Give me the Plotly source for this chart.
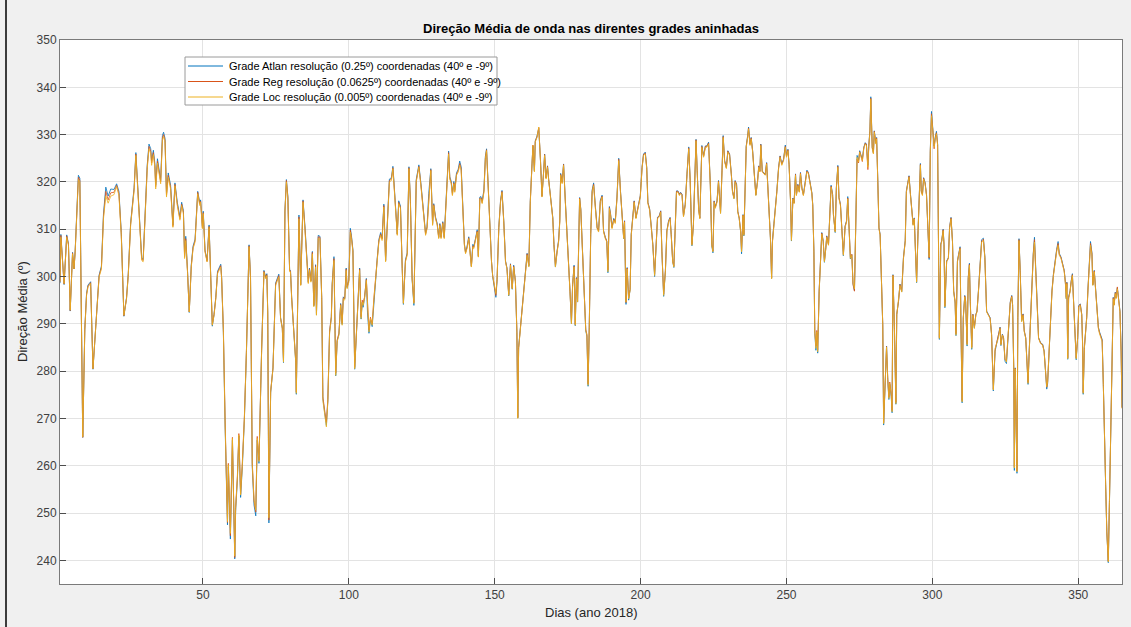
import plotly.graph_objects as go

# ---------------- data ----------------
days = [
    1.0, 1.3, 2.4, 3.3, 3.9, 4.5, 5.3, 5.8, 6.2, 6.6,
    7.3, 7.8, 8.2, 8.8, 9.5, 10.1, 10.6, 11.5, 12.3, 13.0,
    13.8, 14.4, 15.2, 15.9, 16.7, 17.5, 18.4, 19.5, 20.4, 21.2,
    22.0, 22.9, 23.8, 24.4, 25.2, 26.4, 27.0, 27.5, 28.3, 29.0,
    29.5, 30.1, 30.9, 31.5, 32.1, 32.4, 33.0, 33.5, 33.8, 34.4,
    35.0, 35.5, 36.1, 36.5, 37.0, 37.5, 38.1, 38.9, 39.7, 40.4,
    41.2, 41.8, 42.1, 42.7, 43.3, 43.7, 44.1, 44.7, 45.3, 46.0,
    46.6, 47.3, 48.2, 48.9, 49.2, 49.8, 50.1, 50.7, 51.4, 52.1,
    52.6, 53.2, 53.8, 54.4, 55.0, 55.5, 56.1, 56.4, 57.0, 57.6,
    58.0, 58.4, 58.7, 59.4, 60.1, 60.5, 60.9, 61.2, 61.8, 62.3,
    62.9, 63.5, 64.2, 64.9, 65.8, 66.3, 66.9, 67.5, 68.1, 68.6,
    69.2, 70.1, 70.9, 71.5, 71.9, 72.2, 72.6, 73.2, 74.0, 74.9,
    75.5, 76.0, 76.6, 77.2, 77.6, 78.1, 78.6, 79.1, 79.7, 80.0,
    80.4, 81.2, 81.8, 82.0, 82.6, 82.9, 83.5, 84.3, 85.0, 85.7,
    86.1, 86.5, 87.0, 87.5, 88.0, 88.6, 88.9, 89.5, 90.1, 90.7,
    91.1, 91.7, 92.3, 92.8, 93.4, 94.0, 94.3, 94.9, 95.5, 96.0,
    96.6, 97.2, 97.7, 98.1, 98.6, 99.1, 99.4, 100.0, 100.5, 100.9,
    101.4, 102.0, 102.5, 103.2, 103.7, 104.2, 104.6, 104.9, 105.4, 106.0,
    106.4, 106.9, 107.4, 108.0, 108.6, 109.2, 109.7, 110.3, 110.9, 111.4,
    112.0, 112.6, 113.1, 113.9, 114.6, 115.1, 115.4, 116.0, 116.6, 117.1,
    117.7, 118.3, 118.7, 119.4, 120.0, 120.6, 121.1, 121.7, 122.3, 123.1,
    124.0, 124.7, 125.5, 126.3, 126.8, 127.4, 128.1, 128.7, 129.1, 129.7,
    130.3, 130.8, 131.2, 131.6, 132.2, 132.7, 133.1, 133.7, 134.2, 134.6,
    135.1, 135.5, 136.0, 136.3, 136.9, 137.5, 138.0, 138.5, 139.1, 139.6,
    140.0, 140.5, 141.1, 141.6, 142.0, 142.5, 142.8, 143.4, 144.0, 144.4,
    144.9, 145.3, 145.7, 146.3, 146.8, 147.2, 147.7, 148.4, 148.9, 149.3,
    149.9, 150.4, 150.8, 151.4, 152.0, 152.5, 153.1, 153.7, 154.2, 154.8,
    155.4, 156.0, 156.5, 157.1, 157.6, 157.9, 158.2, 158.8, 159.4, 159.9,
    160.5, 161.1, 161.7, 162.2, 162.8, 163.1, 163.6, 163.9, 164.5, 165.1,
    165.7, 166.2, 166.8, 167.1, 167.6, 168.1, 168.5, 169.0, 169.4, 169.9,
    170.3, 170.8, 171.4, 171.9, 172.3, 172.6, 173.1, 173.6, 174.2, 174.8,
    175.4, 175.8, 176.3, 176.7, 177.2, 177.6, 178.0, 178.4, 178.8, 179.1,
    179.5, 179.9, 180.5, 180.8, 181.2, 181.6, 182.0, 182.4, 182.9, 183.4,
    183.9, 184.5, 185.1, 185.6, 186.2, 186.8, 187.3, 187.9, 188.4, 188.8,
    189.3, 189.7, 190.2, 190.8, 191.3, 191.9, 192.5, 193.1, 193.6, 194.2,
    194.5, 195.0, 195.4, 195.9, 196.4, 196.8, 197.3, 197.8, 198.4, 198.9,
    199.3, 199.9, 200.5, 201.0, 201.6, 202.1, 202.5, 203.1, 203.7, 204.2,
    204.8, 205.4, 205.8, 206.4, 206.9, 207.3, 207.9, 208.5, 209.0, 209.6,
    210.1, 210.5, 211.0, 211.4, 211.9, 212.3, 212.8, 213.3, 213.7, 214.2,
    214.7, 215.3, 215.9, 216.5, 217.0, 217.6, 218.1, 218.5, 219.0, 219.4,
    219.9, 220.3, 221.0, 221.6, 222.2, 222.7, 223.3, 223.9, 224.4, 224.8,
    225.2, 225.6, 226.2, 226.7, 227.4, 227.9, 228.3, 228.8, 229.4, 229.9,
    230.5, 231.1, 231.5, 232.0, 232.4, 232.9, 233.3, 233.8, 234.3, 234.6,
    235.1, 235.4, 235.9, 236.2, 236.7, 237.0, 237.5, 237.9, 238.4, 239.1,
    239.5, 240.1, 240.5, 240.9, 241.2, 241.7, 242.3, 242.7, 243.2, 243.6,
    244.1, 244.5, 244.9, 245.2, 245.7, 246.1, 246.7, 247.3, 247.8, 248.4,
    249.0, 249.6, 250.0, 250.5, 250.9, 251.4, 251.7, 252.2, 252.6, 253.1,
    253.4, 253.9, 254.4, 254.8, 255.3, 255.8, 256.4, 257.0, 257.5, 258.1,
    258.7, 259.0, 259.4, 259.7, 260.1, 260.4, 260.7, 261.2, 261.7, 262.1,
    262.6, 263.0, 263.5, 263.8, 264.4, 265.0, 265.3, 265.8, 266.1, 266.7,
    267.1, 267.6, 268.0, 268.5, 269.0, 269.5, 270.1, 270.6, 271.0, 271.5,
    271.9, 272.4, 272.8, 273.3, 273.8, 274.2, 274.7, 275.1, 275.6, 276.0,
    276.5, 277.0, 277.4, 277.9, 278.2, 278.6, 278.9, 279.4, 279.8, 280.1,
    280.6, 280.9, 281.3, 281.7, 282.1, 282.7, 283.0, 283.3, 283.8, 284.3,
    284.7, 285.1, 285.4, 285.9, 286.2, 286.5, 287.0, 287.5, 287.8, 288.4,
    288.9, 289.5, 290.1, 290.7, 291.1, 291.6, 292.0, 292.5, 292.9, 293.4,
    293.8, 294.3, 294.6, 295.1, 295.6, 295.9, 296.2, 296.6, 297.0, 297.5,
    298.0, 298.4, 298.9, 299.3, 299.7, 300.1, 300.6, 301.0, 301.4, 301.8,
    302.1, 302.4, 302.9, 303.2, 303.7, 304.0, 304.3, 304.9, 305.5, 305.9,
    306.4, 306.9, 307.3, 307.8, 308.1, 308.6, 309.0, 309.5, 309.8, 310.2,
    310.6, 311.1, 311.4, 311.9, 312.3, 312.7, 313.0, 313.5, 313.9, 314.4,
    314.9, 315.3, 315.8, 316.3, 316.9, 317.5, 318.0, 318.6, 319.2, 319.8,
    320.3, 320.9, 321.5, 322.0, 322.6, 323.2, 323.5, 324.0, 324.4, 324.9,
    325.4, 325.8, 326.3, 326.7, 327.2, 327.5, 327.9, 328.1, 328.4, 328.8,
    329.0, 329.3, 329.7, 330.1, 330.6, 331.1, 331.5, 332.0, 332.4, 332.8,
    333.2, 333.7, 334.1, 334.6, 335.0, 335.7, 336.4, 337.1, 337.8, 338.3,
    338.7, 339.2, 339.5, 340.0, 340.5, 341.0, 341.5, 342.0, 342.6, 343.1,
    343.5, 344.1, 344.7, 345.2, 345.6, 345.9, 346.1, 346.4, 346.7, 347.2,
    347.6, 348.0, 348.4, 348.9, 349.3, 349.8, 350.2, 350.7, 351.2, 351.5,
    351.7, 352.1, 352.5, 352.9, 353.3, 353.8, 354.2, 354.7, 355.0, 355.5,
    356.0, 356.4, 356.9, 357.3, 357.8, 358.2, 358.6, 358.9, 359.4, 359.8,
    360.3, 360.7, 361.2, 361.7, 362.0, 362.3, 362.7, 363.0, 363.4, 363.8,
    364.3, 364.7, 365.0,
]

# Grade Loc (0.005º)
loc_dir = [
    299.0, 308.3, 298.5, 308.3, 306.6, 292.9, 304.8, 301.6, 305.2, 312.2,
    320.5, 320.0, 298.1, 266.1, 288.6, 296.0, 297.8, 298.5, 280.5, 286.9,
    292.5, 299.9, 301.6, 312.2, 317.0, 315.5, 317.0, 317.3, 319.0, 317.1,
    308.7, 291.8, 295.3, 300.2, 310.8, 318.2, 325.6, 320.0, 308.7, 303.4,
    303.1, 310.8, 322.8, 327.0, 326.0, 323.5, 325.8, 323.1, 318.5, 324.0,
    321.4, 319.6, 328.8, 329.6, 328.4, 316.8, 321.0, 318.5, 310.4, 319.2,
    315.0, 312.9, 311.9, 315.0, 313.3, 303.8, 307.6, 300.9, 292.5, 302.0,
    305.9, 307.3, 317.5, 315.0, 315.7, 310.1, 313.3, 305.2, 303.1, 310.4,
    300.2, 289.7, 291.8, 295.3, 300.6, 301.3, 302.0, 299.5, 288.3, 268.6,
    259.5, 248.2, 260.2, 245.7, 265.8, 252.4, 240.9, 251.0, 257.4, 266.5,
    253.8, 260.2, 270.0, 284.1, 306.3, 299.5, 260.2, 252.9, 250.6, 265.8,
    260.9, 284.1, 300.9, 299.5, 300.2, 292.5, 249.0, 275.6, 280.5, 298.1,
    299.2, 299.9, 291.1, 289.0, 281.9, 313.6, 320.0, 316.4, 301.0, 301.0,
    295.3, 286.9, 281.9, 275.3, 305.2, 312.2, 298.1, 315.7, 309.4, 301.0,
    298.5, 301.3, 298.8, 304.8, 293.6, 302.0, 291.8, 308.0, 308.0, 295.3,
    273.8, 271.0, 268.2, 273.5, 288.0, 291.1, 298.1, 303.4, 279.1, 286.2,
    287.6, 293.9, 289.7, 295.3, 295.0, 301.3, 297.4, 298.8, 309.4, 308.0,
    305.2, 280.5, 286.9, 296.7, 301.3, 291.1, 294.6, 293.9, 295.3, 299.2,
    292.5, 288.3, 291.1, 289.7, 295.3, 298.8, 303.1, 307.3, 308.7, 307.6,
    314.7, 303.1, 309.5, 320.0, 320.3, 322.8, 320.0, 314.4, 308.7, 315.4,
    314.4, 301.6, 294.3, 303.1, 304.5, 322.8, 315.7, 299.5, 294.3, 320.0,
    323.1, 319.2, 314.4, 308.7, 310.1, 317.1, 322.4, 310.8, 315.0, 312.2,
    310.8, 308.0, 310.8, 308.0, 311.2, 308.0, 312.9, 320.0, 325.9, 320.6,
    319.6, 317.1, 319.6, 317.8, 321.4, 322.1, 323.5, 322.4, 312.9, 306.6,
    304.8, 305.9, 308.0, 305.2, 302.0, 306.3, 305.9, 307.6, 309.4, 304.1,
    316.4, 316.4, 315.4, 317.8, 324.9, 326.6, 319.2, 310.1, 303.1, 300.2,
    298.1, 296.4, 299.5, 310.1, 315.7, 317.8, 311.5, 303.1, 301.6, 296.0,
    302.4, 297.4, 302.0, 298.8, 288.3, 270.0, 284.8, 289.0, 292.5, 296.0,
    301.6, 304.5, 302.0, 315.7, 323.8, 327.7, 322.1, 328.4, 329.4, 331.6,
    324.2, 316.8, 322.4, 325.6, 320.6, 323.1, 320.3, 317.8, 315.7, 312.2,
    306.6, 302.0, 305.2, 307.3, 311.5, 321.4, 319.6, 323.5, 315.7, 309.4,
    303.1, 296.7, 290.0, 298.1, 302.0, 289.7, 299.5, 294.6, 307.3, 316.4,
    314.0, 308.0, 301.0, 298.1, 288.6, 287.6, 277.0, 289.0, 308.7, 317.8,
    319.2, 314.4, 310.1, 309.4, 315.7, 316.8, 309.4, 308.0, 307.3, 301.0,
    314.4, 312.9, 310.1, 311.9, 311.2, 316.4, 324.5, 317.8, 312.2, 308.0,
    311.5, 294.6, 301.6, 295.3, 297.1, 308.7, 312.2, 315.7, 312.2, 313.6,
    315.0, 316.8, 322.8, 325.6, 325.9, 322.8, 315.4, 314.0, 310.1, 306.6,
    300.2, 307.6, 312.2, 312.6, 313.6, 305.2, 296.0, 301.0, 309.4, 311.5,
    312.2, 308.7, 303.1, 302.0, 310.1, 317.8, 317.8, 317.1, 317.5, 317.1,
    312.6, 315.0, 321.4, 327.0, 320.0, 306.6, 310.8, 319.2, 328.7, 322.1,
    314.0, 312.2, 327.3, 325.2, 327.3, 327.3, 328.0, 319.2, 306.6, 305.2,
    315.7, 314.4, 315.7, 320.0, 313.3, 322.1, 329.4, 324.2, 322.8, 326.3,
    325.6, 321.4, 317.8, 316.4, 320.0, 319.2, 313.6, 312.2, 309.4, 305.2,
    312.9, 308.7, 320.6, 327.3, 329.4, 331.2, 327.7, 329.1, 326.3, 320.6,
    317.1, 320.0, 323.1, 322.1, 327.7, 322.1, 321.7, 321.4, 323.8, 319.2,
    314.4, 308.0, 299.5, 307.3, 310.8, 313.3, 317.8, 322.8, 325.2, 323.5,
    324.5, 327.3, 325.2, 326.6, 323.5, 315.7, 307.6, 316.4, 315.4, 321.4,
    317.1, 319.2, 317.8, 321.7, 318.5, 317.1, 320.0, 322.1, 321.7, 319.2,
    317.5, 315.0, 305.2, 288.3, 284.8, 288.3, 284.1, 296.7, 305.2, 309.0,
    307.3, 303.1, 306.0, 308.3, 306.6, 313.6, 318.9, 317.1, 312.9, 309.4,
    318.5, 323.1, 316.4, 315.0, 310.1, 304.5, 310.4, 311.5, 316.4, 310.1,
    303.8, 304.5, 298.8, 297.4, 315.0, 325.2, 324.2, 326.3, 325.2, 324.5,
    327.0, 328.0, 327.7, 323.1, 327.3, 330.5, 337.5, 327.0, 325.9, 330.5,
    328.0, 329.1, 320.0, 310.1, 308.7, 298.1, 289.7, 268.9, 278.4, 285.1,
    278.4, 274.2, 277.4, 274.9, 271.4, 300.2, 289.0, 273.1, 291.8, 294.6,
    298.1, 296.7, 303.8, 307.3, 317.8, 319.6, 321.0, 317.1, 313.6, 310.8,
    312.2, 301.6, 298.8, 309.4, 317.1, 323.5, 317.8, 317.1, 320.6, 319.6,
    317.1, 310.8, 304.1, 326.3, 334.0, 331.2, 327.3, 329.1, 330.2, 327.7,
    310.0, 286.9, 306.6, 307.3, 309.7, 306.6, 293.6, 303.1, 303.8, 310.1,
    312.2, 307.3, 296.7, 294.6, 287.6, 303.1, 304.5, 305.9, 289.7, 273.5,
    291.1, 295.7, 294.6, 285.5, 299.5, 302.4, 294.6, 284.8, 291.8, 289.0,
    291.8, 292.5, 296.7, 302.4, 307.3, 307.6, 303.8, 292.5, 291.8, 291.1,
    287.6, 276.0, 284.8, 285.8, 286.9, 289.0, 285.5, 287.6, 286.9, 282.6,
    281.9, 286.2, 291.8, 294.3, 295.7, 293.9, 280.5, 259.5, 280.5, 270.0,
    258.7, 291.1, 307.6, 301.0, 290.4, 291.8, 288.3, 286.9, 282.6, 277.4,
    284.1, 292.5, 298.8, 304.5, 307.3, 296.7, 286.9, 285.8, 285.5, 284.1,
    279.8, 276.7, 277.7, 284.8, 289.7, 296.7, 300.2, 302.7, 305.2, 306.6,
    304.5, 303.8, 302.4, 301.0, 298.5, 295.3, 298.5, 282.6, 295.3, 296.7,
    298.8, 300.2, 294.6, 289.0, 282.6, 286.9, 293.6, 293.9, 291.8, 285.5,
    275.3, 284.8, 287.6, 291.1, 296.7, 302.4, 306.6, 304.5, 298.1, 301.0,
    296.7, 291.8, 289.0, 287.9, 286.9, 286.2, 277.0, 266.5, 255.9, 246.0,
    239.7, 252.4, 270.0, 284.1, 295.3, 293.9, 296.4, 295.3, 297.4, 295.3,
    292.5, 284.1, 272.1,
]

# Grade Atlan (0.25º)
atl_dir = [
    298.6, 308.9, 298.3, 308.8, 306.9, 292.7, 305.1, 301.6, 305.4, 312.6,
    321.4, 320.8, 298.5, 266.0, 288.9, 296.4, 298.2, 298.9, 280.4, 287.1,
    292.7, 300.3, 302.2, 313.2, 318.9, 317.0, 318.5, 318.4, 319.6, 318.0,
    309.3, 291.6, 295.5, 300.6, 311.3, 318.8, 326.2, 320.7, 309.2, 303.9,
    303.6, 311.4, 323.6, 328.0, 327.0, 324.5, 326.7, 324.0, 319.4, 324.9,
    322.2, 320.3, 329.8, 330.5, 329.2, 317.5, 321.9, 319.3, 310.9, 319.8,
    315.7, 313.6, 312.6, 315.7, 313.9, 304.4, 308.5, 301.3, 292.4, 302.5,
    306.4, 307.9, 318.0, 315.6, 316.2, 310.6, 313.8, 305.6, 303.4, 310.9,
    300.5, 289.5, 292.0, 295.6, 301.1, 301.9, 302.6, 299.9, 288.1, 268.2,
    259.0, 247.5, 259.8, 244.5, 265.4, 251.8, 240.3, 250.5, 257.0, 266.3,
    253.3, 259.8, 269.8, 284.0, 306.7, 299.8, 259.7, 251.7, 249.4, 265.4,
    260.5, 284.3, 301.3, 299.9, 300.6, 292.3, 247.9, 275.4, 280.7, 298.6,
    299.8, 300.5, 291.3, 289.1, 281.8, 314.0, 320.5, 316.9, 301.4, 301.3,
    295.6, 287.0, 281.8, 275.1, 305.8, 313.0, 298.3, 316.2, 310.2, 301.4,
    298.9, 301.8, 299.1, 305.3, 293.8, 302.5, 291.9, 308.7, 308.5, 295.5,
    274.2, 271.3, 268.5, 273.7, 288.3, 291.4, 298.6, 304.2, 279.0, 286.4,
    287.8, 294.3, 289.9, 295.7, 295.3, 301.8, 297.6, 299.3, 310.2, 308.6,
    305.6, 280.4, 287.0, 297.1, 301.8, 291.0, 294.5, 293.5, 295.6, 299.6,
    292.3, 288.0, 290.9, 289.4, 295.5, 299.2, 303.6, 307.8, 309.3, 308.1,
    315.3, 303.4, 310.1, 320.6, 320.9, 323.3, 320.6, 315.0, 309.0, 316.0,
    314.9, 301.7, 294.1, 303.5, 305.0, 323.2, 316.2, 299.3, 293.9, 320.5,
    323.6, 319.7, 315.0, 309.1, 310.5, 317.6, 322.8, 311.2, 315.4, 312.6,
    311.2, 308.3, 311.2, 308.4, 311.6, 308.3, 313.4, 320.6, 326.5, 321.1,
    320.1, 317.6, 320.1, 318.3, 321.9, 322.7, 324.4, 323.2, 313.4, 306.9,
    305.1, 306.3, 308.4, 305.5, 302.2, 306.8, 306.3, 308.0, 309.9, 304.3,
    316.8, 316.9, 315.9, 318.3, 325.4, 327.0, 319.6, 310.4, 303.2, 300.0,
    297.4, 295.6, 299.0, 310.4, 316.1, 318.2, 311.8, 303.3, 301.8, 295.9,
    302.7, 297.3, 302.4, 298.9, 288.2, 270.1, 285.0, 289.2, 292.7, 296.3,
    302.0, 304.9, 302.2, 316.1, 324.0, 327.6, 322.3, 328.6, 329.7, 331.3,
    324.4, 317.0, 322.6, 325.9, 320.9, 323.4, 320.5, 318.1, 316.0, 312.5,
    306.8, 302.0, 305.5, 307.7, 311.9, 321.8, 320.0, 323.8, 316.0, 309.6,
    303.3, 296.9, 290.0, 298.4, 302.4, 289.6, 299.8, 294.6, 307.8, 316.7,
    314.3, 308.3, 301.2, 298.3, 288.5, 287.4, 276.8, 289.2, 309.1, 318.3,
    319.8, 314.8, 310.4, 309.7, 316.1, 317.2, 309.7, 308.3, 307.5, 300.8,
    314.8, 313.3, 310.4, 312.3, 311.6, 316.8, 325.0, 318.1, 312.4, 308.0,
    311.8, 294.1, 301.9, 295.0, 297.3, 309.0, 312.5, 316.0, 312.4, 313.9,
    315.3, 317.1, 323.1, 325.9, 326.3, 323.1, 315.7, 314.3, 310.3, 306.7,
    300.0, 307.9, 312.5, 312.9, 313.9, 305.3, 295.8, 301.2, 309.7, 311.8,
    312.5, 308.9, 303.2, 301.9, 310.4, 318.1, 318.1, 317.4, 317.8, 317.4,
    312.8, 315.3, 321.7, 327.4, 320.3, 306.5, 311.0, 319.5, 329.0, 322.4,
    314.2, 312.4, 327.7, 325.5, 327.6, 327.6, 328.4, 319.4, 306.5, 305.0,
    316.0, 314.7, 316.0, 320.3, 313.4, 322.4, 329.8, 324.5, 323.0, 326.6,
    325.9, 321.7, 318.0, 316.5, 320.3, 319.5, 313.8, 312.3, 309.4, 304.8,
    313.1, 308.6, 320.9, 327.6, 329.8, 331.6, 328.0, 329.4, 326.6, 320.8,
    317.2, 320.3, 323.4, 322.3, 328.0, 322.3, 321.9, 321.6, 324.1, 319.4,
    314.6, 308.1, 299.6, 307.6, 311.2, 313.7, 318.1, 323.1, 325.5, 323.8,
    324.8, 327.8, 325.5, 326.9, 323.7, 315.8, 307.5, 316.6, 315.6, 321.7,
    317.3, 319.5, 318.0, 322.0, 318.7, 317.3, 320.3, 322.5, 322.0, 319.4,
    317.7, 315.2, 305.4, 288.0, 284.4, 288.1, 283.8, 296.9, 305.5, 309.3,
    307.5, 303.0, 306.2, 308.6, 306.8, 313.9, 319.3, 317.4, 313.1, 309.3,
    318.8, 323.5, 316.7, 315.3, 310.3, 304.4, 310.7, 311.8, 316.9, 310.3,
    303.7, 304.6, 298.5, 297.0, 315.3, 325.6, 324.5, 326.6, 325.5, 324.8,
    327.3, 328.3, 328.0, 323.5, 327.6, 330.9, 338.0, 327.3, 326.2, 330.8,
    328.3, 329.4, 320.2, 310.3, 308.9, 298.2, 289.6, 268.6, 278.2, 285.3,
    278.2, 274.0, 277.2, 274.6, 271.2, 300.4, 289.1, 273.0, 292.0, 294.8,
    298.4, 296.8, 304.1, 307.6, 318.1, 319.9, 321.3, 317.4, 313.8, 311.0,
    312.4, 301.5, 298.7, 309.7, 317.4, 323.9, 318.1, 317.4, 320.9, 319.9,
    317.3, 310.6, 303.6, 326.8, 334.9, 331.7, 327.6, 329.5, 330.7, 328.0,
    310.3, 286.7, 306.9, 307.6, 310.0, 306.8, 293.4, 303.3, 304.0, 310.4,
    312.5, 307.5, 296.9, 294.4, 287.5, 303.3, 304.7, 306.3, 289.6, 273.3,
    291.3, 296.0, 294.9, 285.3, 299.8, 302.8, 294.7, 284.6, 292.0, 289.1,
    292.0, 292.7, 297.0, 302.8, 307.8, 308.1, 304.1, 292.7, 292.0, 291.3,
    287.7, 275.8, 284.2, 285.9, 287.2, 289.3, 285.4, 287.8, 287.0, 282.1,
    281.6, 286.4, 292.1, 294.6, 296.0, 294.1, 280.3, 259.0, 280.7, 269.8,
    258.4, 291.4, 308.0, 301.3, 290.6, 292.1, 288.5, 287.0, 282.4, 277.2,
    284.3, 292.8, 299.2, 305.0, 308.3, 297.0, 287.1, 286.0, 285.7, 284.3,
    279.5, 276.2, 277.3, 284.9, 289.9, 297.0, 300.5, 303.1, 305.7, 307.4,
    304.9, 304.1, 302.7, 301.3, 298.7, 295.3, 298.8, 282.5, 295.6, 297.0,
    299.1, 300.6, 294.8, 289.1, 282.4, 287.0, 293.9, 294.2, 292.0, 285.4,
    275.1, 284.9, 287.8, 291.4, 297.0, 302.8, 307.4, 305.0, 298.2, 301.3,
    297.0, 292.0, 289.3, 288.3, 287.6, 286.7, 277.2, 266.4, 255.7, 245.8,
    239.5, 252.2, 270.1, 284.3, 295.6, 294.1, 296.7, 295.5, 297.6, 295.5,
    292.7, 284.3, 272.4,
]

# Grade Reg (0.0625º)
reg_dir = [
    298.8, 308.7, 298.4, 308.6, 306.8, 292.8, 305.0, 301.6, 305.3, 312.4,
    321.0, 320.4, 298.3, 266.0, 288.8, 296.2, 298.0, 298.7, 280.5, 287.0,
    292.6, 300.1, 301.9, 312.7, 318.0, 316.2, 317.7, 317.8, 319.3, 317.5,
    309.0, 291.7, 295.4, 300.4, 311.0, 318.5, 325.9, 320.3, 309.0, 303.6,
    303.4, 311.1, 323.2, 327.5, 326.5, 324.0, 326.2, 323.5, 319.0, 324.4,
    321.8, 320.0, 329.3, 330.0, 328.8, 317.1, 321.4, 318.9, 310.6, 319.5,
    315.3, 313.2, 312.2, 315.3, 313.6, 304.1, 308.0, 301.1, 292.5, 302.2,
    306.1, 307.6, 317.8, 315.3, 315.9, 310.3, 313.5, 305.4, 303.2, 310.6,
    300.3, 289.8, 292.0, 295.5, 300.9, 301.6, 302.3, 299.7, 288.8, 269.5,
    259.9, 248.0, 260.5, 245.2, 266.0, 252.2, 240.6, 251.2, 257.8, 266.8,
    254.0, 260.8, 270.3, 284.3, 306.5, 299.7, 260.6, 252.6, 250.2, 266.2,
    261.2, 284.2, 301.1, 299.7, 300.4, 292.6, 248.5, 275.8, 280.6, 298.4,
    299.5, 300.2, 291.2, 289.1, 282.3, 313.8, 320.3, 316.7, 301.2, 301.2,
    295.5, 287.2, 282.2, 275.6, 305.5, 312.6, 298.2, 316.0, 309.8, 301.2,
    298.7, 301.6, 299.0, 305.1, 293.9, 302.3, 292.2, 308.4, 308.3, 295.6,
    274.6, 271.8, 269.2, 274.0, 288.5, 291.5, 298.4, 303.8, 279.6, 286.6,
    288.0, 294.1, 290.1, 295.5, 295.4, 301.6, 297.8, 299.1, 309.8, 308.3,
    305.4, 280.8, 287.3, 296.9, 301.6, 291.5, 295.0, 294.4, 295.7, 299.4,
    292.8, 288.7, 291.4, 290.0, 295.5, 299.0, 303.4, 307.6, 309.0, 307.9,
    315.0, 303.3, 309.8, 320.3, 320.6, 323.0, 320.3, 314.7, 308.9, 315.7,
    314.6, 301.7, 294.4, 303.3, 304.7, 323.0, 315.9, 299.6, 294.5, 320.2,
    323.3, 319.4, 314.7, 308.9, 310.3, 317.3, 322.6, 311.0, 315.2, 312.4,
    311.0, 308.2, 311.0, 308.2, 311.4, 308.2, 313.1, 320.3, 326.2, 320.8,
    319.8, 317.3, 319.8, 318.0, 321.6, 322.4, 323.9, 322.8, 313.1, 306.8,
    305.0, 306.1, 308.2, 305.4, 302.1, 306.5, 306.1, 307.8, 309.6, 304.2,
    316.6, 316.6, 315.6, 318.0, 325.1, 326.8, 319.4, 310.3, 303.2, 300.2,
    297.8, 296.0, 299.3, 310.3, 315.9, 318.0, 311.7, 303.2, 301.7, 296.2,
    302.6, 297.5, 302.2, 298.9, 288.4, 270.2, 284.9, 289.1, 292.6, 296.2,
    301.8, 304.8, 302.4, 315.9, 323.9, 327.8, 322.4, 328.7, 329.5, 331.5,
    324.3, 316.9, 322.5, 325.8, 320.8, 323.3, 320.4, 318.0, 315.9, 312.4,
    306.8, 302.3, 305.4, 307.5, 311.7, 321.6, 319.8, 323.7, 315.9, 309.6,
    303.2, 296.9, 290.3, 298.3, 302.2, 289.9, 299.7, 294.8, 307.6, 316.6,
    314.2, 308.2, 301.1, 298.2, 288.8, 287.8, 277.3, 289.1, 308.9, 318.0,
    319.5, 314.6, 310.3, 309.6, 315.9, 317.0, 309.6, 308.2, 307.5, 301.4,
    314.6, 313.1, 310.3, 312.1, 311.4, 316.6, 324.8, 318.0, 312.4, 308.2,
    311.7, 294.5, 301.8, 295.4, 297.3, 308.9, 312.4, 315.9, 312.4, 313.8,
    315.2, 317.0, 323.0, 325.8, 326.1, 323.0, 315.6, 314.2, 310.2, 306.7,
    300.5, 307.8, 312.4, 312.8, 313.8, 305.4, 296.3, 301.2, 309.6, 311.7,
    312.4, 308.8, 303.2, 302.2, 310.3, 318.0, 318.0, 317.3, 317.7, 317.3,
    312.8, 315.2, 321.6, 327.2, 320.2, 306.8, 311.0, 319.4, 328.9, 322.3,
    314.1, 312.3, 327.5, 325.4, 327.5, 327.5, 328.2, 319.3, 306.8, 305.4,
    315.9, 314.6, 315.9, 320.2, 313.5, 322.3, 329.6, 324.4, 323.0, 326.5,
    325.8, 321.6, 318.0, 316.7, 320.2, 319.4, 313.8, 312.4, 309.6, 305.4,
    313.0, 308.9, 320.8, 327.5, 329.6, 331.4, 327.9, 329.3, 326.5, 320.7,
    317.3, 320.2, 323.3, 322.2, 327.9, 322.2, 321.8, 321.5, 324.0, 319.3,
    314.5, 308.2, 299.7, 307.5, 311.0, 313.5, 318.0, 323.0, 325.4, 323.7,
    324.7, 327.5, 325.4, 326.8, 323.6, 315.9, 307.8, 316.5, 315.5, 321.6,
    317.2, 319.4, 317.9, 321.9, 318.6, 317.2, 320.2, 322.3, 321.9, 319.3,
    317.6, 315.1, 305.3, 288.7, 285.3, 288.6, 284.5, 296.9, 305.4, 309.2,
    307.4, 303.3, 306.1, 308.5, 306.7, 313.8, 319.1, 317.3, 313.1, 309.6,
    318.7, 323.3, 316.6, 315.2, 310.3, 304.7, 310.6, 311.7, 316.6, 310.3,
    304.1, 304.7, 298.3, 296.9, 315.2, 324.8, 324.0, 326.4, 325.4, 324.3,
    327.2, 328.2, 327.9, 322.6, 327.5, 330.7, 337.7, 327.2, 326.1, 330.7,
    328.2, 329.3, 320.1, 310.2, 308.8, 298.2, 289.8, 269.1, 278.6, 285.2,
    278.6, 274.5, 277.7, 275.2, 271.7, 300.3, 289.2, 273.4, 292.0, 294.7,
    298.3, 296.9, 303.9, 307.5, 318.0, 319.8, 321.2, 317.3, 313.8, 311.0,
    312.3, 301.8, 299.0, 309.6, 317.3, 323.7, 318.0, 317.3, 320.8, 319.8,
    317.2, 310.9, 303.9, 326.5, 334.4, 331.4, 327.0, 329.3, 330.4, 327.9,
    310.2, 287.1, 306.8, 307.5, 309.9, 306.7, 293.8, 303.2, 303.9, 310.3,
    312.4, 307.4, 297.0, 294.8, 287.9, 303.2, 304.6, 306.1, 289.9, 273.8,
    291.2, 295.9, 294.8, 285.8, 299.7, 302.6, 294.8, 285.1, 292.0, 289.3,
    291.9, 292.6, 296.9, 302.6, 307.5, 307.9, 304.0, 292.6, 291.9, 291.2,
    287.8, 276.2, 284.5, 286.0, 287.1, 289.2, 285.7, 287.7, 287.1, 282.4,
    282.2, 286.3, 292.0, 294.5, 295.9, 294.0, 280.8, 259.8, 280.6, 270.2,
    258.9, 291.3, 307.8, 301.2, 290.8, 292.0, 288.5, 287.1, 282.8, 277.6,
    284.2, 292.7, 299.0, 304.8, 307.8, 296.9, 287.0, 285.9, 285.6, 284.2,
    279.9, 276.6, 277.6, 285.0, 289.8, 296.9, 300.4, 302.9, 305.5, 307.0,
    304.7, 304.0, 302.6, 301.2, 298.7, 295.6, 298.7, 282.8, 295.5, 296.9,
    299.0, 300.4, 294.8, 289.2, 282.8, 287.1, 293.8, 294.1, 292.0, 285.7,
    275.5, 285.0, 287.7, 291.3, 296.9, 302.6, 307.0, 304.8, 298.3, 301.2,
    296.9, 291.9, 289.2, 288.1, 287.3, 286.5, 277.1, 266.6, 256.0, 246.1,
    239.8, 252.5, 270.2, 284.3, 295.5, 294.0, 296.6, 295.5, 297.8, 295.4,
    292.6, 284.2, 272.2,
]

series_names = [
    "Grade Atlan resolução (0.25º) coordenadas (40º e -9º)",
    "Grade Reg resolução (0.0625º) coordenadas (40º e -9º)",
    "Grade Loc resolução (0.005º) coordenadas (40º e -9º)",
]
series_colors = ["#0072BD", "#D95319", "#EDB120"]
x_ticks = [50, 100, 150, 200, 250, 300, 350]
y_ticks = [240, 250, 260, 270, 280, 290, 300, 310, 320, 330, 340, 350]

# keep all series aligned
n = min(len(days), len(loc_dir), len(atl_dir), len(reg_dir))
if not (len(days) == len(loc_dir) == len(atl_dir) == len(reg_dir)):
    print("length mismatch", len(days), len(loc_dir), len(atl_dir), len(reg_dir))

# ---------------- figure ----------------
W, H = 1131, 627
L_M, R_M, T_M, B_M = 60, 9, 40, 43
plot_w = W - L_M - R_M
plot_h = H - T_M - B_M


def px_x(p):
    return (p - L_M) / plot_w


def px_y(p):
    return (H - B_M - p) / plot_h


fig = go.Figure()
for vals, name, col in zip([atl_dir, reg_dir, loc_dir], series_names, series_colors):
    fig.add_trace(go.Scatter(
        x=days[:n], y=vals[:n], mode="lines", name=name,
        line=dict(color=col, width=0.8), showlegend=False,
    ))

font_family = "Liberation Sans, Arial, Helvetica, sans-serif"
axis_common = dict(
    showline=True, linecolor="#7a7a7a", linewidth=1, mirror=True,
    ticks="inside", ticklen=6, tickcolor="#4d4d4d", tickwidth=1,
    showgrid=True, gridcolor="#e3e3e3", gridwidth=1, zeroline=False,
    tickfont=dict(family=font_family, size=12, color="#404040"),
)

fig.update_layout(
    width=W, height=H,
    paper_bgcolor="#F0F0F0", plot_bgcolor="#FFFFFF",
    margin=dict(l=L_M, r=R_M, t=T_M, b=B_M, pad=0),
    font=dict(family=font_family, size=12, color="#262626"),
    title=dict(
        text="<b>Direção Média de onda nas direntes grades aninhadas</b>",
        x=0.5, xref="paper", xanchor="center",
        y=1 - 28 / H, yref="container", yanchor="middle",
        font=dict(family=font_family, size=13, color="#000000"),
    ),
    xaxis=dict(range=[1, 365], tickvals=x_ticks, **axis_common),
    yaxis=dict(range=[235, 350], tickvals=y_ticks, **axis_common),
    showlegend=False,
)

# ---- legend box (drawn to match the compact MATLAB legend) ----
fig.add_shape(
    type="rect", xref="paper", yref="paper",
    x0=px_x(185), x1=px_x(497), y0=px_y(105), y1=px_y(57),
    fillcolor="#FFFFFF", line=dict(color="#9a9a9a", width=1), layer="above",
)
legend_rows = [66, 81.5, 97]
for row_y, name, col in zip(legend_rows, series_names, series_colors):
    fig.add_shape(
        type="line", xref="paper", yref="paper",
        x0=px_x(188), x1=px_x(223), y0=px_y(row_y), y1=px_y(row_y),
        line=dict(color=col, width=1), layer="above",
    )
    fig.add_annotation(
        text=name, xref="paper", yref="paper",
        x=px_x(227), y=px_y(row_y), xanchor="left", yanchor="middle",
        showarrow=False, font=dict(family=font_family, size=11, color="#000000"),
    )

fig.add_annotation(
    text="Dias (ano 2018)", xref="paper", yref="paper",
    x=0.5, y=px_y(612), xanchor="center", yanchor="middle",
    showarrow=False, font=dict(family=font_family, size=13, color="#262626"),
)
fig.add_annotation(
    text="Direção Média (º)", xref="paper", yref="paper", textangle=-90,
    x=px_x(22), y=0.5, xanchor="center", yanchor="middle",
    showarrow=False, font=dict(family=font_family, size=13, color="#262626"),
)
# dark window edge on the left of the screenshot
fig.add_shape(
    type="line", xref="paper", yref="paper",
    x0=px_x(6), x1=px_x(6), y0=px_y(H + 2), y1=px_y(-2),
    line=dict(color="#000000", width=1.5),
)

fig.write_html("out.html")
